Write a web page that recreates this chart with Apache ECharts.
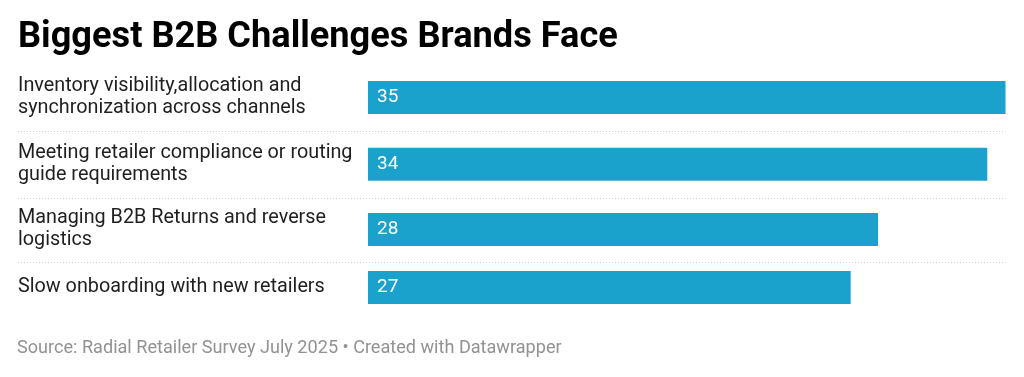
<!DOCTYPE html>
<html>
<head>
<meta charset="utf-8">
<script src="https://cdn.jsdelivr.net/npm/echarts@6/dist/echarts.min.js"></script>
<style>
html,body{margin:0;padding:0;background:#fff;}
#chart{width:1024px;height:377px;}
</style>
</head>
<body>
<div id="chart"></div>
<script>
const titleText = 'Biggest B2B Challenges Brands Face';
const sourceText = 'Source: Radial Retailer Survey July 2025 \u2022 Created with Datawrapper';
const categories = [
  'Inventory visibility,allocation and\nsynchronization across channels',
  'Meeting retailer compliance or routing\nguide requirements',
  'Managing B2B Returns and reverse\nlogistics',
  'Slow onboarding with new retailers'
];
const values = [35, 34, 28, 26.5];
const axisMax = 35;

const chart = echarts.init(document.getElementById('chart'));
const FONT = 'Roboto';
const rowHeights = [67, 66.5, 64, 52];
const startY = 64;
const barLeft = 368;
const barRight = 1005.5;

const grids = [], xAxes = [], yAxes = [], series = [], graphics = [];
let y = startY;
categories.forEach((cat, i) => {
  const h = rowHeights[i];
  grids.push({left: barLeft, top: y, width: barRight - barLeft, height: h});
  xAxes.push({gridIndex: i, type: 'value', min: 0, max: axisMax, show: false});
  yAxes.push({
    gridIndex: i, type: 'category', data: [cat],
    axisLine: {show: false}, axisTick: {show: false}, splitLine: {show: false},
    axisLabel: {align: 'left', margin: barLeft - 18, fontFamily: FONT, fontSize: 19.8, lineHeight: 22,
      padding: [5, 0, 0, 0], color: '#1f1f1f'}
  });
  series.push({
    type: 'bar', xAxisIndex: i, yAxisIndex: i, data: [values[i]], barWidth: 33,
    itemStyle: {color: '#1aa1cc'},
    label: {show: true, position: 'insideLeft', distance: 9, color: '#fff', fontFamily: FONT, fontSize: 19,
      formatter: p => String(Math.round(p.value))},
    silent: true, animation: false
  });
  y += h;
  if (i < categories.length - 1) {
    graphics.push({type: 'line', shape: {x1: 18, y1: Math.round(y) + 0.5, x2: barRight, y2: Math.round(y) + 0.5},
      style: {stroke: '#cfcfcf', lineWidth: 1, lineDash: [1, 2]}, silent: true});
  }
});

chart.setOption({
  animation: false,
  title: [
    {text: titleText, left: 18, top: 20, padding: 0, textStyle: {fontFamily: FONT, fontSize: 36.2, fontWeight: 'bold', color: '#000'}},
    {text: sourceText, left: 17, top: 339, padding: 0, textStyle: {fontFamily: FONT, fontSize: 18.1, fontWeight: 'normal', color: '#929292'}}
  ],
  grid: grids,
  xAxis: xAxes,
  yAxis: yAxes,
  series: series,
  graphic: graphics
});
</script>
</body>
</html>
